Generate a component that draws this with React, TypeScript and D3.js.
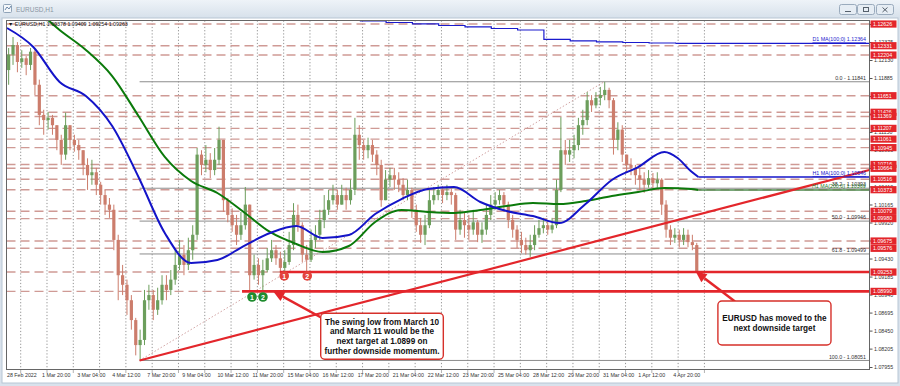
import React from 'react';
import * as d3 from 'd3';

const SYMBOL = 'EURUSD,H1';
const QUOTE = '1.09378 1.09409 1.09254 1.09263';

const xLabels = ['28 Feb 2022','1 Mar 20:00','3 Mar 04:00','4 Mar 12:00','7 Mar 20:00','9 Mar 04:00','10 Mar 12:00','11 Mar 20:00','15 Mar 04:00','16 Mar 12:00','17 Mar 20:00','21 Mar 04:00','22 Mar 12:00','23 Mar 20:00','25 Mar 04:00','28 Mar 12:00','29 Mar 20:00','31 Mar 04:00','1 Apr 12:00','4 Apr 20:00'];

const yTicks = ['1.12620','1.12375','1.12130','1.11885','1.11640','1.11395','1.11150','1.10905','1.10660','1.10410','1.10165','1.09920','1.09675','1.09430','1.09185','1.08940','1.08695','1.08450','1.08205','1.07955'];

const levels = [1.12626,1.12331,1.12204,1.11651,1.11426,1.11369,1.11207,1.11061,1.10945,1.10716,1.10664,1.10516,1.10373,1.10079,1.09980,1.09675,1.09576,1.09253,1.08990];

const fibNames = ['0.0','38.2','50.0','61.8','100.0'];
const fibPrices = [1.11841,1.10393,1.09946,1.09499,1.08051];

// 4-hour aggregated candles (158)
const firstOpen = 1.1200;
const closes = [
1.1221,1.1234,1.1211,1.1216,1.1207,1.1225,1.1180,1.1139,1.1132,1.1135,
1.1125,1.1105,1.1085,1.1125,1.1105,1.1098,1.1091,1.1071,1.1057,1.1061,
1.1044,1.1030,1.1017,1.1010,1.0969,1.0921,1.0908,1.0887,1.0860,1.0826,
1.0833,1.0887,1.0894,1.0874,1.0887,1.0908,1.0901,1.0915,1.0935,1.0949,
1.0935,1.0955,1.0976,1.1085,1.1071,1.1078,1.1064,1.1078,1.1105,1.1023,
1.1003,1.0989,1.0976,1.0989,1.1017,1.0921,1.0935,1.0921,1.0928,1.0944,
1.0955,1.0944,1.0931,1.0939,1.0962,1.1003,1.0989,1.0949,1.0942,1.0969,
1.0976,1.0996,1.1010,1.1023,1.1030,1.1017,1.1030,1.1023,1.1037,1.1112,
1.1098,1.1091,1.1098,1.1085,1.1071,1.1023,1.1051,1.1057,1.1051,1.1044,
1.1030,1.1037,1.1010,1.0989,1.0976,1.0989,1.1023,1.1030,1.1037,1.1030,
1.1034,1.1030,1.0983,1.0996,1.0989,1.0983,1.0993,1.0976,1.0983,1.1003,
1.1017,1.1023,1.1030,1.1017,1.0996,1.0983,1.0969,1.0962,1.0955,1.0962,
1.0976,1.0985,1.0989,1.0983,1.0989,1.1037,1.1091,1.1085,1.1091,1.1098,
1.1125,1.1132,1.1159,1.1152,1.1162,1.1166,1.1173,1.1159,1.1105,1.1119,
1.1085,1.1071,1.1067,1.1057,1.1051,1.1044,1.1053,1.1046,1.1051,1.1017,
1.0983,1.0972,1.0976,1.0969,1.0976,1.0966,1.0962,1.0926];
const highs = [
1.1230,1.1245,1.1238,1.1227,1.1219,1.1230,1.1228,1.1187,1.1146,1.1143,
1.1139,1.1125,1.1112,1.1142,1.1125,1.1112,1.1105,1.1091,1.1080,1.1078,
1.1067,1.1048,1.1037,1.1026,1.1017,1.0976,1.0935,1.0915,1.0894,1.0863,
1.0847,1.0901,1.0908,1.0901,1.0904,1.0921,1.0921,1.0928,1.0955,1.0969,
1.0962,1.0972,1.0989,1.1094,1.1091,1.1098,1.1087,1.1094,1.1123,1.1105,
1.1026,1.1012,1.1003,1.1007,1.1041,1.1017,1.0949,1.0944,1.0942,1.0958,
1.0969,1.0962,1.0953,1.0955,1.0980,1.1019,1.1017,1.0993,1.0962,1.0983,
1.0989,1.1010,1.1030,1.1037,1.1044,1.1037,1.1044,1.1040,1.1051,1.1135,
1.1125,1.1105,1.1108,1.1105,1.1091,1.1078,1.1064,1.1067,1.1067,1.1061,
1.1053,1.1051,1.1040,1.1017,1.0999,1.1003,1.1037,1.1041,1.1044,1.1042,
1.1044,1.1041,1.1033,1.1010,1.1007,1.1003,1.1010,1.0996,1.0993,1.1017,
1.1030,1.1034,1.1037,1.1034,1.1021,1.1003,1.0989,1.0980,1.0972,1.0976,
1.0989,1.0996,1.0999,1.0996,1.0999,1.1051,1.1136,1.1105,1.1105,1.1112,
1.1135,1.1146,1.1170,1.1166,1.1170,1.1177,1.1184,1.1176,1.1162,1.1129,
1.1125,1.1085,1.1080,1.1071,1.1067,1.1061,1.1064,1.1060,1.1061,1.1053,
1.1023,1.0989,1.0985,1.0983,1.0985,1.0983,1.0976,1.0965];
const lows = [
1.1180,1.1207,1.1197,1.1203,1.1193,1.1200,1.1166,1.1125,1.1112,1.1119,
1.1112,1.1091,1.1071,1.1078,1.1091,1.1089,1.1078,1.1057,1.1037,1.1044,
1.1030,1.1017,1.1003,1.0999,1.0955,1.0887,1.0894,1.0867,1.0847,1.0812,
1.0806,1.0826,1.0874,1.0860,1.0867,1.0881,1.0887,1.0894,1.0908,1.0928,
1.0921,1.0928,1.0942,1.0969,1.1057,1.1061,1.1053,1.1057,1.1071,1.1007,
1.0993,1.0980,1.0962,1.0969,1.0983,1.0900,1.0915,1.0908,1.0900,1.0925,
1.0939,1.0935,1.0925,1.0925,1.0935,1.0955,1.0980,1.0939,1.0925,1.0939,
1.0958,1.0969,1.0985,1.1003,1.1017,1.1010,1.1017,1.1010,1.1017,1.1030,
1.1078,1.1078,1.1080,1.1075,1.1057,1.1014,1.1030,1.1041,1.1037,1.1034,
1.1023,1.1023,1.0999,1.0980,1.0965,1.0962,1.0985,1.1017,1.1023,1.1019,
1.1023,1.1017,1.0969,1.0976,1.0972,1.0969,1.0976,1.0966,1.0965,1.0976,
1.0996,1.1010,1.1017,1.1007,1.0985,1.0972,1.0958,1.0951,1.0949,1.0946,
1.0955,1.0972,1.0978,1.0976,1.0978,1.0985,1.1034,1.1071,1.1075,1.1080,
1.1091,1.1112,1.1125,1.1143,1.1148,1.1152,1.1159,1.1148,1.1085,1.1091,
1.1075,1.1061,1.1057,1.1044,1.1037,1.1033,1.1040,1.1037,1.1040,1.1003,
1.0972,1.0962,1.0965,1.0959,1.0962,1.0959,1.0955,1.0925];

// H1 moving averages, sampled at bar indices
const ma100Idx = [0,24,48,72,96,120,144,168,192,216,240,264,288,312,336,360,384,408,432,456,480,504,528,552,576,600,612,624,631];
const ma100 = [1.12572,1.12314,1.11838,1.11647,1.11239,1.10546,1.09784,1.09376,1.09417,1.09607,1.09784,1.09879,1.09716,1.09757,1.10042,1.10246,1.10383,1.10410,1.10206,1.10083,1.10015,1.09920,1.10178,1.10505,1.10681,1.10885,1.10804,1.10627,1.10546];
const ma200Idx = [0,24,48,72,96,120,144,168,192,216,240,264,288,312,336,360,384,408,432,456,480,504,528,552,576,600,624,631];
const ma200 = [1.13157,1.12858,1.12545,1.12273,1.11919,1.11375,1.10818,1.10491,1.10328,1.10070,1.09798,1.09635,1.09526,1.09607,1.09934,1.10097,1.10070,1.10056,1.10097,1.10151,1.10192,1.10178,1.10219,1.10287,1.10342,1.10396,1.10383,1.10369];
const d1Idx = [322,346,370,394,418,442,466,490,514,538,562,586,610];
const d1Ma = [1.12667,1.12647,1.12627,1.12606,1.12586,1.12565,1.12545,1.12416,1.12396,1.12382,1.12375,1.12368,1.12364];

const fibLowBar = 121;
const fibHighBar = 545;
const trendBars = [121, 787];
const trendPrices = [1.08051, 1.10641];
const redLevelPrices = [1.09253, 1.08990];
const redLevelStartBars = [249, 214.5];
const greenMarkBars = [223.6, 233.6];
const redMarkBars = [253, 274];
const greenMarkPrice = 1.08914;
const redMarkPrice = 1.09200;

const note1Lines = ['The swing low from March 10', 'and March 11 would be the', 'next target at 1.0899 on', 'further downside momentum.'];
const note2Lines = ['EURUSD has moved to the', 'next downside target'];

export default function App() {
  const W = 900, H = 386;
  const P = { l: 6.5, t: 20.5, r: 869.5, b: 369.5 };
  const x = d3.scaleLinear().domain([0, 631]).range([7, 698.4]);
  const y = d3.scaleLinear().domain([1.07955, 1.1213]).range([367.5, 60.5]);
  const font = '"Liberation Sans", Arial, sans-serif';

  const candles = closes.map((c, j) => {
    const o = j === 0 ? firstOpen : closes[j - 1];
    return { j, o, c, h: Math.max(highs[j], o, c), l: Math.min(lows[j], o, c) };
  });

  const smooth = d3.line<[number, number]>().x(d => x(d[0])).y(d => y(d[1])).curve(d3.curveMonotoneX);
  const step = d3.line<[number, number]>().x(d => x(d[0])).y(d => y(d[1])).curve(d3.curveStepAfter);

  const gridBars = d3.range(0, 27).map(k => 12.5 + 24 * k);

  const arrow = (x1: number, y1: number, x2: number, y2: number, key: string) => {
    const a = Math.atan2(y2 - y1, x2 - x1);
    const L = 11, w = 5;
    const bx = x2 - L * Math.cos(a), by = y2 - L * Math.sin(a);
    const p1 = [bx + w * Math.sin(a), by - w * Math.cos(a)];
    const p2 = [bx - w * Math.sin(a), by + w * Math.cos(a)];
    return (
      <g key={key}>
        <line x1={x1} y1={y1} x2={bx} y2={by} stroke="#e3262b" strokeWidth={2.5} />
        <polygon points={`${x2},${y2} ${p1[0]},${p1[1]} ${p2[0]},${p2[1]}`} fill="#e3262b" />
      </g>
    );
  };

  const n1 = { x0: x(286.3), x1: x(398.2), y0: y(1.08692), y1: y(1.08067) };
  const n2 = { x0: x(648.8), x1: x(752), y0: y(1.08859), y1: y(1.08261) };

  return (
    <svg width={W} height={H} style={{ position: 'absolute', left: 0, top: 0, display: 'block' }} fontFamily={font}>
      <defs>
        <linearGradient id="tb" x1="0" y1="0" x2="0" y2="1">
          <stop offset="0" stopColor="#eef3f8" />
          <stop offset="1" stopColor="#d7e1eb" />
        </linearGradient>
        <clipPath id="plot"><rect x={P.l} y={P.t} width={P.r - P.l} height={P.b - P.t} /></clipPath>
      </defs>
      <rect width={W} height={H} fill="#d9e2ec" />
      <rect x={0} y={0} width={W} height={18} fill="url(#tb)" />
      <rect x={3.5} y={4.5} width={8} height={8} rx={1} fill="#f4f7fa" stroke="#8fa3b8" />
      <path d="M5,10 L7,7 L9,9 L11,6" stroke="#6b87a8" fill="none" />
      <text x={16} y={12} fontSize={6.5} fill="#8a96a3">{SYMBOL}</text>
      {[839, 857, 876].map((bx, k) => (
        <g key={bx}>
          <rect x={bx + 0.5} y={4.5} width={17} height={10} rx={2} fill="#e6edf4" stroke="#9aabbd" />
          {k === 0 && <line x1={bx + 6} y1={11.5} x2={bx + 12} y2={11.5} stroke="#55606c" />}
          {k === 1 && <rect x={bx + 6.5} y={7.5} width={5} height={4} fill="none" stroke="#55606c" />}
          {k === 2 && <path d={`M${bx + 6.5},7.5 L${bx + 11.5},12 M${bx + 11.5},7.5 L${bx + 6.5},12`} stroke="#55606c" />}
        </g>
      ))}
      <rect x={2} y={18} width={896} height={365} fill="#ffffff" stroke="#b8c6d4" />

      <g clipPath="url(#plot)">
        {gridBars.map(b => (
          <line key={b} x1={x(b)} x2={x(b)} y1={P.t} y2={P.b} stroke="#777" strokeWidth={0.8} strokeDasharray="1.2 2" />
        ))}
        {levels.map(p => (
          <line key={p} x1={P.l} x2={P.r} y1={y(p)} y2={y(p)} stroke="#cf9a95" strokeWidth={1.4} strokeDasharray="9 5" />
        ))}
        {fibPrices.map(p => (
          <line key={p} x1={x(fibLowBar)} x2={P.r} y1={y(p)} y2={y(p)} stroke="#8c8c8c" strokeWidth={1} />
        ))}
        <line x1={x(fibLowBar)} y1={y(fibPrices[4])} x2={x(fibHighBar)} y2={y(fibPrices[0])} stroke="#c99" strokeWidth={0.9} strokeDasharray="1.5 2" />

        {candles.map(d => {
          const cx = x(d.j * 4 + 1.5);
          const up = d.c >= d.o;
          const col = up ? '#6c9e5c' : '#cc7d6c';
          const yt = y(Math.max(d.o, d.c)), yb = y(Math.min(d.o, d.c));
          return (
            <g key={d.j}>
              <line x1={cx} x2={cx} y1={y(d.h)} y2={y(d.l)} stroke={col} strokeWidth={1} />
              <rect x={cx - 1.6} y={yt} width={3.2} height={Math.max(1, yb - yt)} fill={col} />
            </g>
          );
        })}

        <path d={step(d1Idx.map((b, k) => [b, d1Ma[k]]) as [number, number][]) || ''} fill="none" stroke="#1a1acd" strokeWidth={1.2} />
        <line x1={x(d1Idx[d1Idx.length - 1])} x2={P.r} y1={y(d1Ma[d1Ma.length - 1])} y2={y(d1Ma[d1Ma.length - 1])} stroke="#1a1acd" strokeWidth={1.2} />

        <path d={smooth(ma200Idx.map((b, k) => [b, ma200[k]]) as [number, number][]) || ''} fill="none" stroke="#0b7a0b" strokeWidth={2} />
        <line x1={x(631)} x2={P.r} y1={y(ma200[ma200.length - 1])} y2={y(ma200[ma200.length - 1])} stroke="#4d8a4d" strokeWidth={1.6} />
        <path d={smooth(ma100Idx.map((b, k) => [b, ma100[k]]) as [number, number][]) || ''} fill="none" stroke="#1414c8" strokeWidth={2} />
        <line x1={x(631)} x2={P.r} y1={y(ma100[ma100.length - 1])} y2={y(ma100[ma100.length - 1])} stroke="#1414c8" strokeWidth={1.6} />

        <line x1={x(trendBars[0])} y1={y(trendPrices[0])} x2={x(trendBars[1])} y2={y(trendPrices[1])} stroke="#e3262b" strokeWidth={2.2} />
        {redLevelPrices.map((p, k) => (
          <line key={p} x1={x(redLevelStartBars[k])} x2={P.r} y1={y(p)} y2={y(p)} stroke="#e3262b" strokeWidth={2.6} />
        ))}
      </g>

      {fibNames.map((n, k) => (
        <text key={n} x={866} y={y(fibPrices[k]) - 1.8} fontSize={5.3} fill="#333" textAnchor="end">{`${n} - ${fibPrices[k].toFixed(5)}`}</text>
      ))}
      <text x={866} y={y(d1Ma[d1Ma.length - 1]) - 2} fontSize={5.3} fill="#1a1acd" textAnchor="end" textDecoration="underline">{`D1 MA(100;0) ${d1Ma[d1Ma.length - 1].toFixed(5)}`}</text>
      <text x={866} y={y(ma100[ma100.length - 1]) - 2} fontSize={5.3} fill="#1414c8" textAnchor="end" textDecoration="underline">{`H1 MA(100;0) ${ma100[ma100.length - 1].toFixed(5)}`}</text>
      <text x={812} y={y(ma200[ma200.length - 1]) - 1.5} fontSize={5.3} fill="#2a7a2a">{`H1 MA(200;0) ${ma200[ma200.length - 1].toFixed(5)}`}</text>

      {greenMarkBars.map((b, k) => (
        <g key={'g' + b}>
          <circle cx={x(b)} cy={y(greenMarkPrice)} r={4.8} fill="#1f8c2f" />
          <text x={x(b)} y={y(greenMarkPrice) + 2.6} fontSize={7} fontWeight="bold" fill="#fff" textAnchor="middle">{k + 1}</text>
        </g>
      ))}
      {redMarkBars.map((b, k) => (
        <g key={'r' + b}>
          <circle cx={x(b)} cy={y(redMarkPrice)} r={4.8} fill="#e3423a" />
          <text x={x(b)} y={y(redMarkPrice) + 2.6} fontSize={7} fontWeight="bold" fill="#fff" textAnchor="middle">{k + 1}</text>
        </g>
      ))}

      {arrow(x(287.5), y(1.08628), x(243), y(1.0899), 'a1')}
      {arrow(x(664.4), y(1.08853), x(628.5), y(1.0926), 'a2')}

      <rect x={n1.x0} y={n1.y0} width={n1.x1 - n1.x0} height={n1.y1 - n1.y0} rx={4} fill="#fff" stroke="#d6302a" strokeWidth={1.4} />
      {note1Lines.map((t, k) => (
        <text key={t} x={(n1.x0 + n1.x1) / 2} y={n1.y0 + 11.3 + k * 9.8} fontSize={8.2} fontWeight="bold" fill="#111" textAnchor="middle">{t}</text>
      ))}
      <rect x={n2.x0} y={n2.y0} width={n2.x1 - n2.x0} height={n2.y1 - n2.y0} rx={4} fill="#fff" stroke="#d6302a" strokeWidth={1.4} />
      {note2Lines.map((t, k) => (
        <text key={t} x={(n2.x0 + n2.x1) / 2} y={n2.y0 + 20 + k * 10} fontSize={8.2} fontWeight="bold" fill="#111" textAnchor="middle">{t}</text>
      ))}

      <rect x={P.l} y={P.t} width={P.r - P.l} height={P.b - P.t} fill="none" stroke="#666" strokeWidth={1} />
      <text x={8} y={25.5} fontSize={5.3} fill="#111">{`▼ ${SYMBOL}  ${QUOTE}`}</text>

      {yTicks.map(t => (
        <g key={t}>
          <line x1={P.r} x2={P.r + 3} y1={y(+t)} y2={y(+t)} stroke="#555" />
          <text x={874} y={y(+t) + 1.8} fontSize={5.3} fill="#333">{t}</text>
        </g>
      ))}
      {levels.map(p => (
        <g key={'b' + p}>
          <rect x={870.5} y={y(p) - 3.6} width={26} height={7.2} fill="#e3262b" />
          <text x={873} y={y(p) + 1.9} fontSize={5.3} fill="#fff">{p.toFixed(5)}</text>
        </g>
      ))}

      {gridBars.map(b => (
        <line key={'t' + b} x1={x(b)} x2={x(b)} y1={P.b} y2={P.b + 4} stroke="#666" strokeDasharray="1 1" />
      ))}
      {xLabels.map((t, k) => (
        <text key={t} x={x(32 * k)} y={376.5} fontSize={5.3} fill="#333">{t}</text>
      ))}
    </svg>
  );
}
